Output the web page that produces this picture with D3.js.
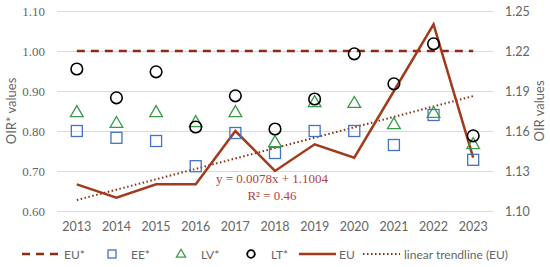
<!DOCTYPE html>
<html>
<head>
<meta charset="utf-8">
<script src="https://cdn.jsdelivr.net/npm/d3@7"></script>
<style>
  body { margin: 0; background: #fff; }
  svg { display: block; }
</style>
</head>
<body>
<div id="wrapper"></div>
<script>
const years = ["2013", "2014", "2015", "2016", "2017", "2018", "2019", "2020", "2021", "2022", "2023"];
const euStar = [1.00, 1.00, 1.00, 1.00, 1.00, 1.00, 1.00, 1.00, 1.00, 1.00, 1.00];
const ee = [0.80, 0.783, 0.775, 0.712, 0.795, 0.745, 0.80, 0.80, 0.765, 0.84, 0.728];
const lv = [0.845, 0.818, 0.845, 0.82, 0.845, 0.77, 0.87, 0.868, 0.815, 0.843, 0.765];
const lt = [0.955, 0.883, 0.948, 0.81, 0.888, 0.805, 0.88, 0.993, 0.918, 1.018, 0.788];
const eu = [1.12, 1.11, 1.12, 1.12, 1.16, 1.13, 1.15, 1.14, 1.19, 1.24, 1.14];
const trendSlope = 0.0078;
const trendIntercept = 1.1004;
const leftTicks = [0.60, 0.70, 0.80, 0.90, 1.00, 1.10];
const rightTicks = [1.10, 1.13, 1.16, 1.19, 1.22, 1.25];

const dimension = {
    width: 550,
    height: 267,
    margin: { top: 11, left: 57, bottom: 56, right: 57 }
};
dimension.boundedHeight = dimension.height - dimension.margin.top - dimension.margin.bottom;

const svg = d3.select("#wrapper").append("svg")
    .attr("width", dimension.width)
    .attr("height", dimension.height);

const xScaler = d3.scaleBand()
    .domain(years)
    .range([dimension.margin.left, dimension.width - dimension.margin.right]);
const xc = (d) => xScaler(d) + xScaler.bandwidth() / 2;

const yLeft = d3.scaleLinear()
    .domain([0.60, 1.10])
    .range([dimension.margin.top + dimension.boundedHeight, dimension.margin.top]);
const yRight = d3.scaleLinear()
    .domain([1.10, 1.25])
    .range([dimension.margin.top + dimension.boundedHeight, dimension.margin.top]);

// gridlines + left axis
svg.append("g")
    .attr("transform", `translate(${dimension.margin.left},0)`)
    .call(d3.axisLeft(yLeft).tickValues(leftTicks)
        .tickSize(-(dimension.width - dimension.margin.left - dimension.margin.right))
        .tickFormat(d3.format(".2f")).tickPadding(12))
    .call(g => g.select(".domain").remove())
    .call(g => g.selectAll("line").attr("stroke", "#d9d9d9"))
    .call(g => g.selectAll("text").attr("fill", "#666")
        .style("font-family", "'Liberation Serif', serif").style("font-size", "13px"));

svg.append("g")
    .attr("transform", `translate(${dimension.width - dimension.margin.right},0)`)
    .call(d3.axisRight(yRight).tickValues(rightTicks).tickSize(0)
        .tickFormat(d3.format(".2f")).tickPadding(12))
    .call(g => g.select(".domain").remove())
    .call(g => g.selectAll("text").attr("fill", "#666")
        .style("font-family", "Lato, sans-serif").style("font-size", "12.5px"));

svg.append("g")
    .attr("transform", `translate(0,${dimension.margin.top + dimension.boundedHeight})`)
    .call(d3.axisBottom(xScaler).tickSize(0).tickPadding(11))
    .call(g => g.select(".domain").remove())
    .call(g => g.selectAll("text").attr("fill", "#666")
        .style("font-family", "Lato, sans-serif").style("font-size", "12.5px"));

// axis titles
svg.append("text")
    .attr("transform", `translate(16,111) rotate(-90)`)
    .attr("text-anchor", "middle")
    .attr("fill", "#666")
    .style("font-family", "Lato, sans-serif").style("font-size", "13px")
    .text("OIR* values");
svg.append("text")
    .attr("transform", `translate(544,111) rotate(-90)`)
    .attr("text-anchor", "middle")
    .attr("fill", "#666")
    .style("font-family", "Lato, sans-serif").style("font-size", "13px")
    .text("OIR values");

const euStarColor = "#8b2c12";
const euColor = "#a23a1c";
const eeColor = "#4472c4";
const lvColor = "#3a9a4a";

// EU* dashed line
svg.append("path")
    .datum(euStar)
    .attr("fill", "none")
    .attr("stroke", euStarColor)
    .attr("stroke-width", 2.5)
    .attr("stroke-dasharray", "8,6")
    .attr("d", d3.line().x((d, i) => xc(years[i])).y(d => yLeft(d)));

// linear trendline
svg.append("path")
    .datum(years)
    .attr("fill", "none")
    .attr("stroke", "#8b2c12")
    .attr("stroke-width", 2)
    .attr("stroke-dasharray", "1.5,2.5")
    .attr("d", d3.line().x(d => xc(d)).y((d, i) => yRight(trendSlope * (i + 1) + trendIntercept)));

// EU line
svg.append("path")
    .datum(eu)
    .attr("fill", "none")
    .attr("stroke", euColor)
    .attr("stroke-width", 2.5)
    .attr("d", d3.line().x((d, i) => xc(years[i])).y(d => yRight(d)));

// EE squares
svg.append("g").selectAll("rect")
    .data(ee)
    .join("rect")
    .attr("x", (d, i) => xc(years[i]) - 5.5)
    .attr("y", d => yLeft(d) - 5.5)
    .attr("width", 11).attr("height", 11)
    .attr("fill", "none").attr("stroke", eeColor).attr("stroke-width", 1.3);

// LV triangles
const tri = d3.symbol().type(d3.symbolTriangle).size(70);
svg.append("g").selectAll("path")
    .data(lv)
    .join("path")
    .attr("transform", (d, i) => `translate(${xc(years[i])},${yLeft(d)})`)
    .attr("d", tri)
    .attr("fill", "none").attr("stroke", lvColor).attr("stroke-width", 1.3);

// LT circles
svg.append("g").selectAll("circle")
    .data(lt)
    .join("circle")
    .attr("cx", (d, i) => xc(years[i]))
    .attr("cy", d => yLeft(d))
    .attr("r", 5.8)
    .attr("fill", "none").attr("stroke", "#000").attr("stroke-width", 1.6);

// trend equation
const annot = svg.append("g")
    .style("font-family", "'Liberation Serif', serif")
    .style("font-size", "13px")
    .attr("fill", "#b8413a")
    .attr("text-anchor", "middle");
annot.append("text").attr("x", 272).attr("y", 183).text("y = 0.0078x + 1.1004");
annot.append("text").attr("x", 272).attr("y", 200).text("R² = 0.46");

// legend
const legend = svg.append("g")
    .attr("transform", "translate(0,254)")
    .style("font-family", "Lato, sans-serif")
    .style("font-size", "12px");
const lt_text = (x, t) => legend.append("text").attr("x", x).attr("y", 4.5).attr("fill", "#666").text(t);

legend.append("line").attr("x1", 22).attr("x2", 61).attr("y1", 0).attr("y2", 0)
    .attr("stroke", euStarColor).attr("stroke-width", 2.5).attr("stroke-dasharray", "8,6");
lt_text(64, "EU*");
legend.append("rect").attr("x", 108).attr("y", -4).attr("width", 8).attr("height", 8)
    .attr("fill", "none").attr("stroke", eeColor).attr("stroke-width", 1.3);
lt_text(131, "EE*");
legend.append("path").attr("transform", "translate(181,0.5)")
    .attr("d", d3.symbol().type(d3.symbolTriangle).size(36))
    .attr("fill", "none").attr("stroke", lvColor).attr("stroke-width", 1.3);
lt_text(201, "LV*");
legend.append("circle").attr("cx", 251).attr("cy", 0).attr("r", 3.8)
    .attr("fill", "none").attr("stroke", "#000").attr("stroke-width", 1.8);
lt_text(271, "LT*");
legend.append("line").attr("x1", 299).attr("x2", 336).attr("y1", 0).attr("y2", 0)
    .attr("stroke", euColor).attr("stroke-width", 2.5);
lt_text(339, "EU");
legend.append("line").attr("x1", 363).attr("x2", 400).attr("y1", 0).attr("y2", 0)
    .attr("stroke", "#8b2c12").attr("stroke-width", 2).attr("stroke-dasharray", "1.5,2.5");
lt_text(404, "linear trendline (EU)");
</script>
</body>
</html>
